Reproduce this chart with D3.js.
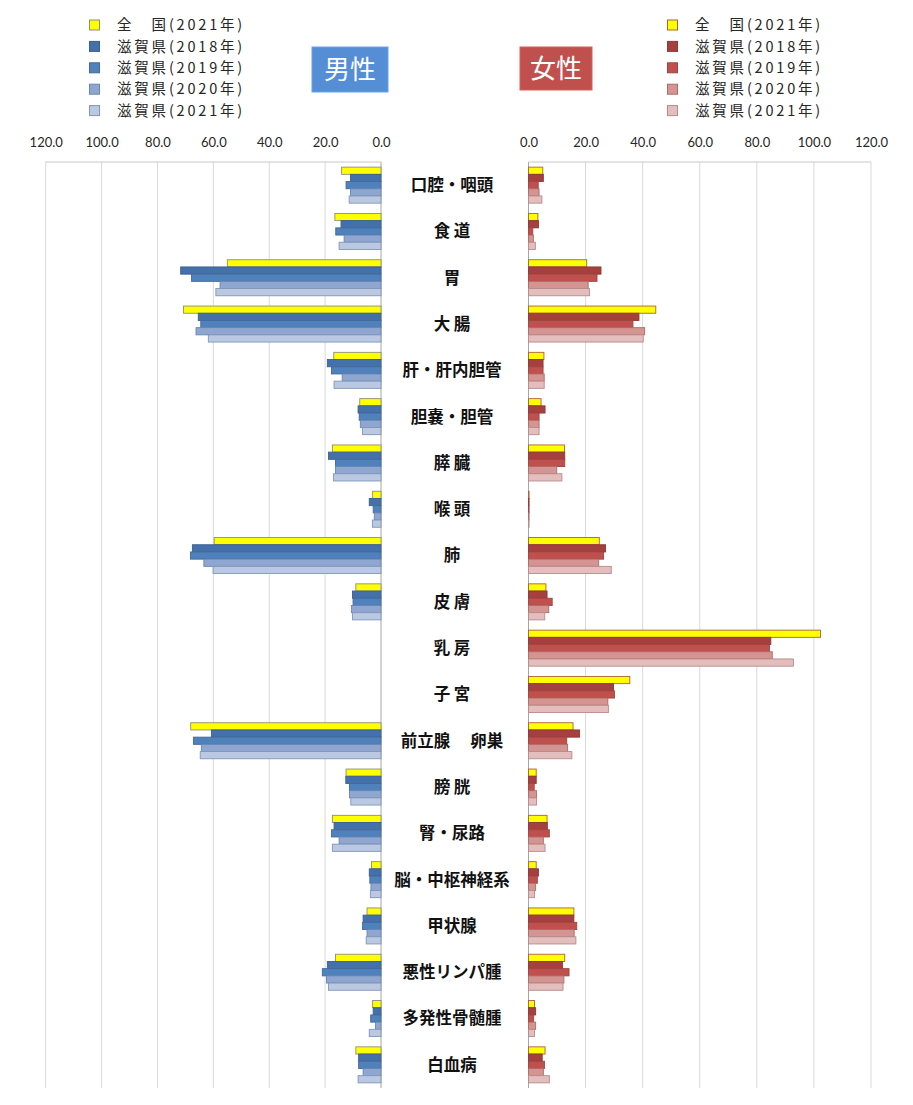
<!DOCTYPE html>
<html>
<head>
<meta charset="utf-8">
<script src="https://cdn.jsdelivr.net/npm/d3@7"></script>
<style>
  html, body { margin: 0; padding: 0; background: #fff; }
  svg { display: block; }
</style>
</head>
<body>
<div id="chart"></div>
<script>
// ---------- DATA ----------
const categories = ["口腔・咽頭","食 道","胃","大 腸","肝・肝内胆管","胆嚢・胆管","膵 臓","喉 頭","肺","皮 膚",
  "乳 房","子 宮","前立腺\u3000 卵巣","膀 胱","腎・尿路","脳・中枢神経系","甲状腺","悪性リンパ腫","多発性骨髄腫","白血病"];

const seriesNames = ["全\u3000国(2021年)","滋賀県(2018年)","滋賀県(2019年)","滋賀県(2020年)","滋賀県(2021年)"];

const tickValues = [0, 20, 40, 60, 80, 100, 120];

// 男性
const maleNational2021 = [14.1,16.5,55.0,70.7,16.9,7.6,17.4,3.0,59.7,9.0,null,null,68.1,12.5,17.4,3.4,5.0,16.3,3.0,9.0];
const maleShiga2018    = [10.9,14.3,71.7,65.4,19.2,8.2,18.8,4.2,67.5,10.2,null,null,60.7,12.6,16.8,4.2,6.4,19.2,2.8,8.0];
const maleShiga2019    = [12.5,16.2,67.8,64.5,17.7,7.8,16.3,2.8,68.2,10.0,null,null,67.1,11.3,17.7,4.0,6.6,21.0,3.7,8.0];
const maleShiga2020    = [10.9,13.2,57.6,66.2,13.9,7.4,16.3,2.4,63.4,10.6,null,null,64.3,11.3,15.0,3.6,5.0,19.5,2.0,6.4];
const maleShiga2021    = [11.4,15.0,59.1,61.8,16.8,6.6,17.0,3.1,60.1,10.2,null,null,64.7,10.8,17.4,3.8,5.3,18.8,4.2,8.2];

// 女性
const femaleNational2021 = [5.0,3.3,20.4,44.6,5.4,4.4,12.6,0.2,24.8,6.1,102.3,35.5,15.6,2.7,6.5,2.7,15.9,12.7,2.1,5.8];
const femaleShiga2018    = [5.2,3.5,25.4,38.7,5.1,5.8,12.7,0.2,27.0,6.5,84.9,29.8,17.9,2.7,6.6,3.5,15.9,11.9,2.5,4.8];
const femaleShiga2019    = [3.4,1.5,24.0,36.6,5.1,3.7,12.7,0.2,26.3,8.3,84.4,30.1,13.4,2.0,7.3,3.1,16.9,14.2,1.8,5.6];
const femaleShiga2020    = [3.7,1.7,20.9,40.7,5.5,3.7,9.9,0.2,24.6,7.1,85.4,27.8,13.7,2.8,5.2,2.5,16.0,12.4,2.5,5.2];
const femaleShiga2021    = [4.7,2.4,21.4,40.2,5.5,3.7,11.7,0.2,29.0,5.7,92.8,28.0,15.2,2.8,5.8,2.1,16.6,12.1,2.1,7.3];

const maleSeries = [maleNational2021, maleShiga2018, maleShiga2019, maleShiga2020, maleShiga2021];
const femaleSeries = [femaleNational2021, femaleShiga2018, femaleShiga2019, femaleShiga2020, femaleShiga2021];

// ---------- STYLE ----------
const W = 913, H = 1105;
const maleFill = ["#FFFF00","#4471A9","#4F81BD","#8FA7D0","#BAC8E2"];
const maleStroke = ["#8d9070","#3d5f8c","#44699b","#6a86b0","#8096bb"];
const femaleFill = ["#FFFF00","#A5403E","#C0504D","#D39492","#E4BDBD"];
const femaleStroke = ["#b0603a","#8f3836","#a04442","#b06a68","#b88b8b"];

const plotTop = 162, plotBottom = 1088;

const svg = d3.select("#chart").append("svg")
  .attr("width", W).attr("height", H)
  .attr("viewBox", `0 0 ${W} ${H}`);

svg.append("rect").attr("width", W).attr("height", H).attr("fill", "#fff");

const y = d3.scaleBand().domain(categories).range([plotTop, plotBottom])
  .paddingInner(0.222).paddingOuter(0.111);
const ySub = d3.scaleBand().domain(d3.range(5)).range([0, y.bandwidth()]).padding(0);

const xL = d3.scaleLinear().domain([0, 120]).range([381, 45.7]);
const xR = d3.scaleLinear().domain([0, 120]).range([528.5, 871]);

function drawPanel(x, series, fills, strokes) {
  const g = svg.append("g");
  // gridlines
  g.selectAll("line.grid").data(tickValues).enter().append("line")
    .attr("x1", d => x(d)).attr("x2", d => x(d))
    .attr("y1", plotTop).attr("y2", plotBottom)
    .attr("stroke", d => d === 0 ? "#a6a6a6" : "#d9d9d9")
    .attr("stroke-width", 1);
  // top border
  g.append("line")
    .attr("x1", x(0)).attr("x2", x(120))
    .attr("y1", plotTop).attr("y2", plotTop)
    .attr("stroke", "#c8c8c8").attr("stroke-width", 1);

  // bars
  series.forEach((vals, si) => {
    g.selectAll(null).data(vals.map((v, i) => ({ v, c: categories[i] })).filter(d => d.v != null))
      .enter().append("rect")
      .attr("x", d => Math.min(x(0), x(d.v)))
      .attr("width", d => Math.abs(x(d.v) - x(0)))
      .attr("y", d => y(d.c) + ySub(si))
      .attr("height", ySub.bandwidth())
      .attr("fill", fills[si])
      .attr("stroke", strokes[si])
      .attr("stroke-width", 0.9);
  });

  // axis
  const axis = d3.axisTop(x).tickValues(tickValues).tickFormat(d3.format(".1f"))
    .tickSize(0).tickPadding(15);
  const ag = svg.append("g").attr("transform", `translate(0,${plotTop})`).call(axis);
  ag.select(".domain").remove();
  ag.selectAll("text")
    .attr("font-family", "Lato, 'Liberation Sans', sans-serif")
    .attr("font-size", 13).attr("fill", "#262626");
}

drawPanel(xL, maleSeries, maleFill, maleStroke);
drawPanel(xR, femaleSeries, femaleFill, femaleStroke);

// category labels
svg.append("g").selectAll("text").data(categories).enter().append("text")
  .attr("x", 452)
  .attr("y", d => y(d) + y.bandwidth() / 2)
  .attr("dy", "0.36em")
  .attr("text-anchor", "middle")
  .style("white-space", "pre")
  .attr("font-family", "'Noto Sans CJK JP', sans-serif")
  .attr("font-weight", "bold")
  .attr("font-size", 16.5)
  .attr("fill", "#111")
  .text(d => d);

// legends
function legend(x0, fills, strokes) {
  const lg = svg.append("g");
  seriesNames.forEach((name, i) => {
    const cy = 25 + i * 21.4;
    lg.append("rect").attr("x", x0).attr("y", cy - 5).attr("width", 10).attr("height", 10)
      .attr("fill", fills[i]).attr("stroke", strokes[i]).attr("stroke-width", 1);
    lg.append("text").attr("x", x0 + 27.5).attr("y", cy).attr("dy", "0.36em")
      .style("white-space", "pre")
      .attr("font-family", "'Noto Sans CJK JP', sans-serif")
      .attr("font-size", 14.5).attr("letter-spacing", 2.8)
      .attr("fill", "#262626")
      .text(name);
  });
}
legend(89.5, maleFill, maleStroke);
legend(667.5, femaleFill, femaleStroke);

// gender boxes
function genderBox(x0, y0, w, h, fill, label) {
  svg.append("rect").attr("x", x0).attr("y", y0).attr("width", w).attr("height", h)
    .attr("fill", fill).attr("stroke", d3.color(fill).brighter(0.4)).attr("stroke-width", 1);
  svg.append("text").attr("x", x0 + w / 2).attr("y", y0 + h / 2).attr("dy", "0.36em")
    .attr("text-anchor", "middle")
    .attr("font-family", "'Noto Sans CJK JP', sans-serif")
    .attr("font-size", 26).attr("font-weight", 400).attr("fill", "#fff")
    .text(label);
}
genderBox(312, 47, 76, 45, "#558ED5", "男性");
genderBox(520, 47, 72, 43, "#C0504D", "女性");
</script>
</body>
</html>
